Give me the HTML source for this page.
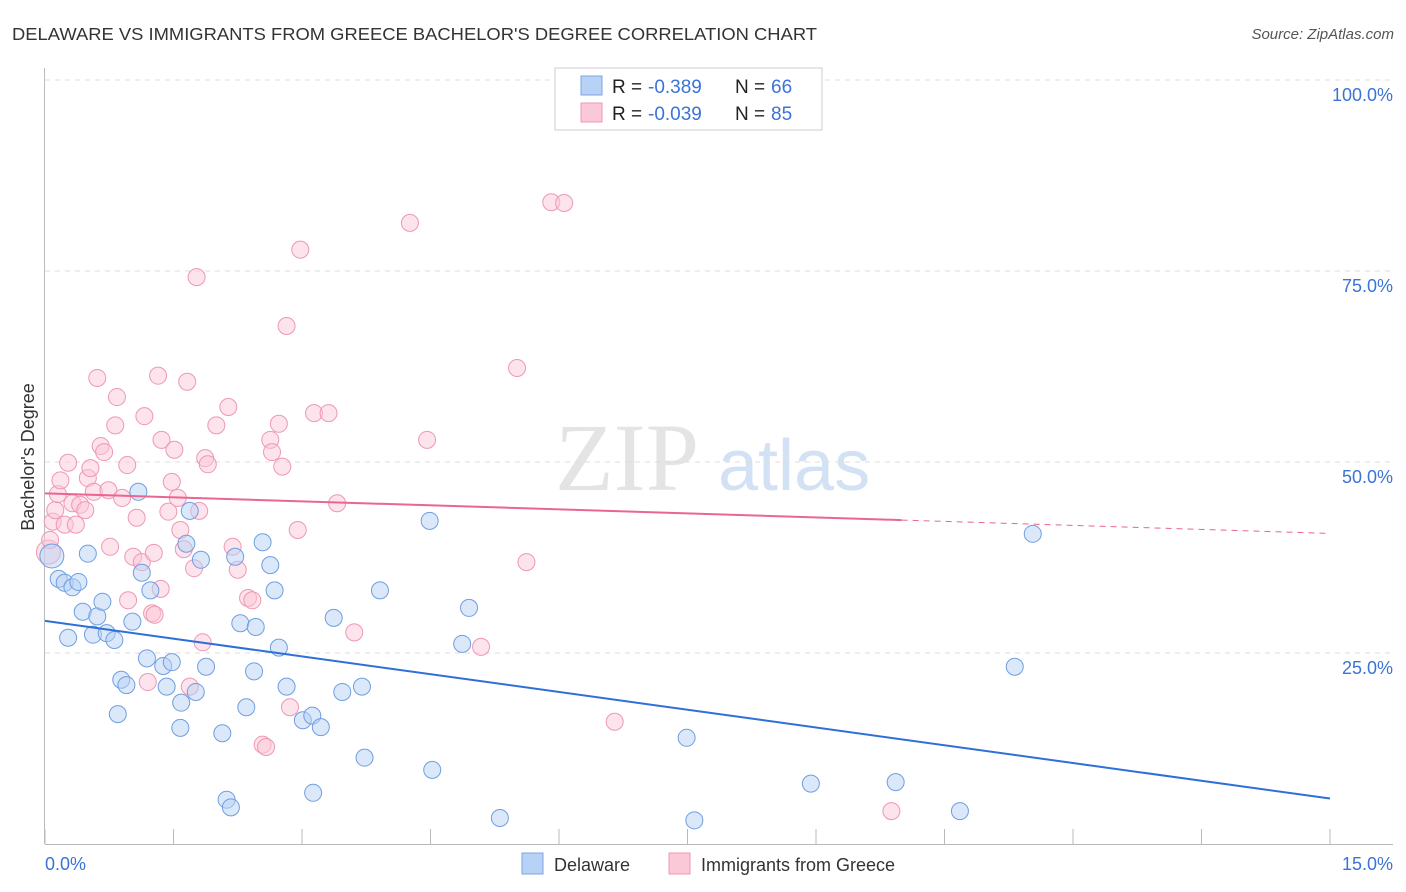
<!DOCTYPE html>
<html><head><meta charset="utf-8"><style>
body{margin:0;background:#fff;font-family:"Liberation Sans",sans-serif;}
svg{display:block}
</style></head><body>
<svg id="chart" width="1406" height="892">
<text x="12" y="40" font-size="17.5" fill="#333" textLength="805" lengthAdjust="spacingAndGlyphs">DELAWARE VS IMMIGRANTS FROM GREECE BACHELOR'S DEGREE CORRELATION CHART</text>
<text x="1394" y="39" font-size="15" fill="#555" font-style="italic" text-anchor="end">Source: ZipAtlas.com</text>
<g><text x="555" y="490" font-size="96" fill="#e4e4e4" font-family="Liberation Serif,serif">ZIP</text><text x="718" y="490" font-size="72" fill="#d2e2f4">atlas</text></g>
<g id="grid"></g>
<g id="axes"></g>
<g id="pts"></g>
<g id="lines"></g>
<text transform="translate(34,457) rotate(-90)" font-size="18" fill="#333" text-anchor="middle">Bachelor's Degree</text>
<g>
<rect x="555" y="68" width="267" height="62" fill="#fff" stroke="#ccc"/>
<rect x="581" y="76" width="21" height="19" fill="#b8d2f5" stroke="#7aa5e3"/>
<rect x="581" y="103" width="21" height="19" fill="#fbc8d8" stroke="#ee98b4"/>
<text x="612" y="93" font-size="19" fill="#222">R =</text>
<text x="648" y="93" font-size="19" fill="#3b73d6">-0.389</text>
<text x="735" y="93" font-size="19" fill="#222">N =</text>
<text x="771" y="93" font-size="19" fill="#3b73d6">66</text>
<text x="612" y="120" font-size="19" fill="#222">R =</text>
<text x="648" y="120" font-size="19" fill="#3b73d6">-0.039</text>
<text x="735" y="120" font-size="19" fill="#222">N =</text>
<text x="771" y="120" font-size="19" fill="#3b73d6">85</text>
</g>
<g>
<rect x="522" y="853" width="21" height="21" fill="#b8d2f5" stroke="#7aa5e3"/>
<text x="554" y="871" font-size="18" fill="#333">Delaware</text>
<rect x="669" y="853" width="21" height="21" fill="#fbc8d8" stroke="#ee98b4"/>
<text x="701" y="871" font-size="18" fill="#333">Immigrants from Greece</text>
</g>
</svg>
<script>
const yTicks=[25,50,75,100];
const yTickLabels=["25.0%","50.0%","75.0%","100.0%"];
const xTickCount=10;
const blueX=[0.08,0.16,0.23,0.32,0.39,0.5,0.27,0.44,0.56,0.61,0.67,0.72,0.81,0.85,0.89,0.95,1.02,1.09,1.13,1.23,1.19,1.38,1.48,1.42,1.58,1.59,1.65,1.69,1.76,1.82,1.88,2.07,2.12,2.17,2.22,2.28,2.35,2.44,2.46,2.54,2.63,2.68,2.73,2.82,3.01,3.12,3.13,3.22,3.37,3.47,3.7,3.73,3.91,4.49,4.52,4.87,4.95,5.31,7.49,7.58,8.94,9.93,10.68,11.32,11.53];
const blueY=[37.7,34.7,34.2,33.6,34.3,38.0,27.0,30.4,27.4,29.8,31.7,27.6,26.7,17.0,21.5,20.8,29.1,46.1,35.5,33.2,24.3,23.3,23.8,20.6,15.2,18.5,39.3,43.6,19.9,37.2,23.2,14.5,5.8,4.8,37.6,28.9,17.9,22.6,28.4,39.5,36.5,33.2,25.7,20.6,16.2,16.8,6.7,15.3,29.6,19.9,20.6,11.3,33.2,42.3,9.7,26.2,30.9,3.4,13.9,3.1,7.9,8.1,4.3,23.2,40.6];
const pinkX=[0.04,0.06,0.09,0.12,0.15,0.18,0.23,0.27,0.32,0.36,0.41,0.47,0.5,0.53,0.57,0.61,0.65,0.69,0.74,0.76,0.82,0.84,0.9,0.96,0.97,1.03,1.07,1.13,1.16,1.2,1.25,1.27,1.28,1.32,1.35,1.36,1.44,1.48,1.51,1.55,1.58,1.62,1.66,1.69,1.74,1.8,1.84,1.77,1.87,1.9,2.0,2.14,2.19,2.25,2.37,2.42,2.54,2.58,2.63,2.65,2.73,2.77,2.82,2.86,2.95,2.98,3.14,3.31,3.41,3.61,4.26,4.46,5.09,5.51,5.62,5.91,6.06,6.65,9.88];
const pinkY=[38.2,39.8,42.2,43.7,45.8,47.6,41.8,49.9,44.6,41.8,44.4,43.7,47.9,49.2,46.1,61.0,52.1,51.3,46.3,38.9,54.8,58.5,45.3,49.6,31.9,37.6,42.7,36.9,56.0,21.2,30.2,38.1,30.0,61.3,33.4,52.9,43.5,47.4,51.6,45.3,41.1,38.6,60.5,20.6,36.1,43.6,26.4,74.2,50.5,49.7,54.8,57.2,38.9,35.9,32.2,31.9,13.0,12.7,52.9,51.3,55.0,49.4,67.8,17.9,41.1,77.8,56.4,56.4,44.6,27.7,81.3,52.9,25.8,62.3,36.9,84.0,83.9,16.0,4.3];
const blueTrend=[29.2,-1.55];
const pinkTrend=[45.9,-0.35];
const pinkSolidEnd=10.0;
const NS="http://www.w3.org/2000/svg";
const X=v=>45+v/15*1285, Y=v=>844-v/100*764;
function mk(tag,attrs,parent){const e=document.createElementNS(NS,tag);for(const k in attrs)e.setAttribute(k,attrs[k]);document.getElementById(parent).appendChild(e);return e;}
yTicks.forEach((t,i)=>{
 const g=mk('line',{x1:45,x2:1393,y1:Y(t),y2:Y(t),stroke:'#ddd','stroke-dasharray':'5,5'},'grid');
 
 
 const tx=mk('text',{x:1393,y:Y(t)+21,'font-size':18,fill:'#3b73d6','text-anchor':'end'},'axes');
 tx.textContent=yTickLabels[i];
 
 
});
const ax=mk('line',{x1:45,x2:1393,y1:844.5,y2:844.5,stroke:'#bbb'},'axes');


const ay=mk('line',{x1:44.5,x2:44.5,y1:68,y2:844,stroke:'#bbb'},'axes');


for(let i=0;i<=xTickCount;i++){const v=15*i/xTickCount;
 const t=mk('line',{x1:X(v),x2:X(v),y1:829,y2:844,stroke:'#bbb'},'axes');
 
 }
const l0=mk('text',{x:45,y:870,'font-size':18,fill:'#3b73d6'},'axes');l0.textContent='0.0%';


const l1=mk('text',{x:1393,y:870,'font-size':18,fill:'#3b73d6','text-anchor':'end'},'axes');l1.textContent='15.0%';


function dots(xs,ys,fill,stroke,name){xs.forEach((x,i)=>{
 const r=(i===0)?12:8.5;
 const c=mk('circle',{cx:X(x),cy:Y(ys[i]),r:r,fill:fill,'fill-opacity':0.5,stroke:stroke,'stroke-width':1},'pts');
 
 });}
dots(pinkX,pinkY,'#fbc8d8','#ee98b4','greece-point');
dots(blueX,blueY,'#b8d2f5','#6f9ee0','delaware-point');
const bl=mk('line',{x1:X(0),y1:Y(blueTrend[0]),x2:X(15),y2:Y(blueTrend[0]+blueTrend[1]*15),stroke:'#2f6fd8','stroke-width':2},'lines');


const pl=mk('line',{x1:X(0),y1:Y(pinkTrend[0]),x2:X(pinkSolidEnd),y2:Y(pinkTrend[0]+pinkTrend[1]*pinkSolidEnd),stroke:'#e8668f','stroke-width':2},'lines');


const pd=mk('line',{x1:X(pinkSolidEnd),y1:Y(pinkTrend[0]+pinkTrend[1]*pinkSolidEnd),x2:X(15),y2:Y(pinkTrend[0]+pinkTrend[1]*15),stroke:'#e8668f','stroke-width':1,'stroke-dasharray':'6,5'},'lines');


</script>
</body></html>
